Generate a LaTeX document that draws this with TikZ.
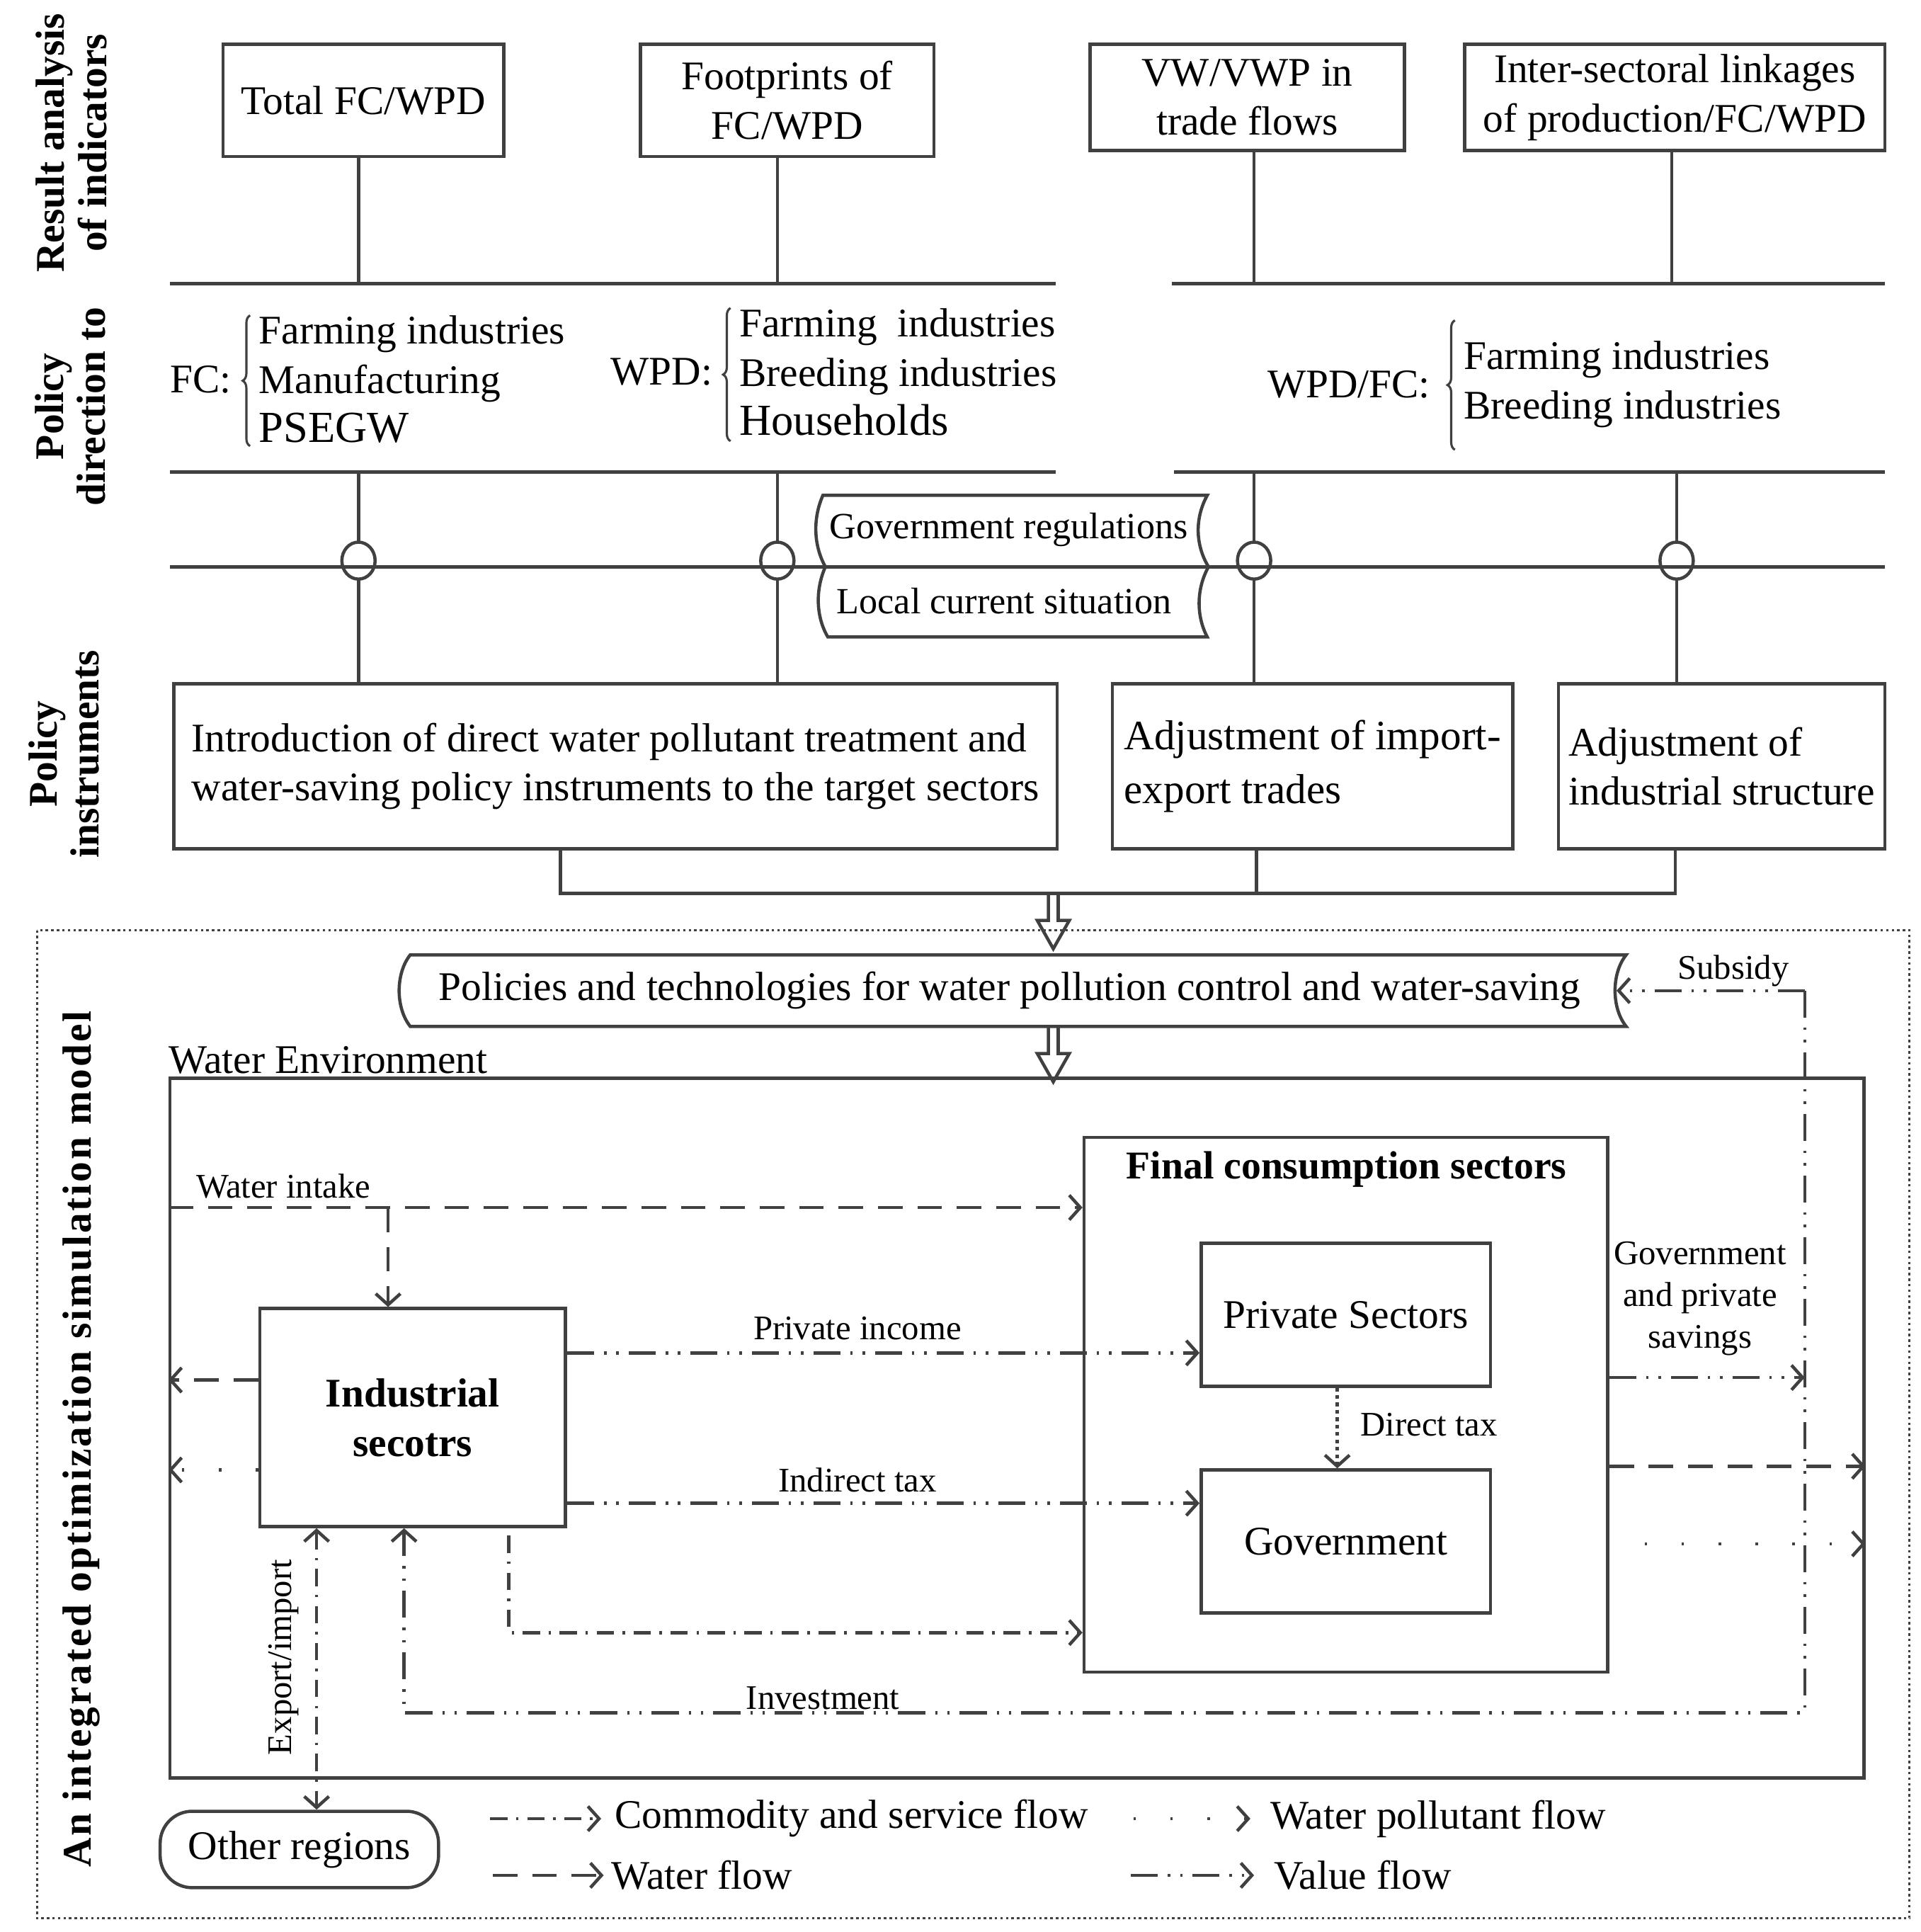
\documentclass[tikz,border=0pt]{standalone}
\usepackage{fontspec}
\setmainfont{Liberation Serif}
\usetikzlibrary{arrows.meta,decorations.pathreplacing}
\definecolor{lc}{HTML}{404040}
\newcommand{\fsz}[2]{\fontsize{#1}{#2}\selectfont}

\begin{document}
\begin{tikzpicture}[x=1pt,y=-1pt,
  >={Straight Barb[length=9pt,width=20pt]},
  ln/.style={draw=lc,line width=2.6pt},
  box/.style={ln,inner sep=0pt,align=center,font=\fsz{33}{40}},
  txt/.style={inner sep=0pt,font=\fsz{33}{40}},
  lbl/.style={inner sep=0pt,font=\fsz{28}{34}},
  side/.style={inner sep=0pt,rotate=90,align=center,font=\fsz{33}{34}\bfseries},
  brc/.style={draw=lc,line width=1.8pt,decorate,decoration={brace,amplitude=6pt}},
  water/.style={ln,dash pattern=on 20pt off 12pt},
  value/.style={ln,dash pattern=on 22pt off 8pt on 2pt off 8pt on 2pt off 8pt},
  commod/.style={ln,dash pattern=on 14pt off 7pt on 2pt off 7pt},
  pollut/.style={ln,dash pattern=on 2pt off 28pt},
  direct/.style={ln,dash pattern=on 3pt off 3pt},
  hollow/.pic={\draw[ln] (-4,0) -- (-4,22) -- (-13,22) -- (0,45) -- (13,22) -- (4,22) -- (4,0);}
]
\useasboundingbox (0,0) rectangle (1559,1568);

% Side titles
\node[side] (sres) at (58,116) {Result analysis\\of indicators};
\node[side] (sdir) at (57,330) {Policy\\direction to};
\node[side] (sins) at (52,612) {Policy\\instruments};
\node[side,font=\fsz{33}{34}\bfseries\addfontfeatures{LetterSpace=5}] (smod) at (66,1168) {An integrated optimization simulation model};

% Indicator boxes
\node[box,minimum width=228pt,minimum height=91pt] (tot) at (295,81.5) {Total FC/WPD};
\node[box,minimum width=238pt,minimum height=91pt] (foot) at (639,81.5) {Footprints of\\FC/WPD};
\node[box,minimum width=255pt,minimum height=86pt] (vw) at (1012.5,79) {VW/VWP in\\trade flows};
\node[box,minimum width=341pt,minimum height=86pt] (link) at (1359.5,79) {Inter-sectoral linkages\\of production/FC/WPD};

% Columns
\coordinate (k1) at (291,230);
\coordinate (k2) at (631,230);
\coordinate (k3) at (1018,230);
\coordinate (k4) at (1357,230);
\draw[ln] (k1 |- tot.south) -- (k1);
\draw[ln] (k2 |- foot.south) -- (k2);
\draw[ln] (k3 |- vw.south) -- (k3);
\draw[ln] (k4 |- link.south) -- (k4);

% Bars
\draw[ln,line width=3pt] (138,230) -- (857,230) (951,230) -- (1530,230);
\draw[ln,line width=3pt] (138,383) -- (857,383) (953,383) -- (1530,383);

% Policy direction
\node[txt] (fc) at (163,308) {FC:};
\node[txt,anchor=west,align=left] (fcl) at (210,308) {Farming industries\\Manufacturing\\\fsz{36}{42}PSEGW};
\draw[brc] ([xshift=-7pt,yshift=-54pt]fcl.west) -- ([xshift=-7pt,yshift=52pt]fcl.west);
\node[txt] (wpd) at (537,302) {WPD:};
\node[txt,anchor=west,align=left] (wpdl) at (600,302) {Farming\ \ industries\\Breeding industries\\\fsz{36}{42}Households};
\draw[brc] ([xshift=-7pt,yshift=-56pt]wpdl.west) -- ([xshift=-7pt,yshift=52pt]wpdl.west);
\node[txt] (wf) at (1095,312) {WPD/FC:};
\node[txt,anchor=west,align=left] (wfl) at (1188,312) {Farming industries\\Breeding industries};
\draw[brc] ([xshift=-7pt,yshift=-53pt]wfl.west) -- ([xshift=-7pt,yshift=52pt]wfl.west);

% Conditions
\draw[ln] (668,402) -- (980,402) .. controls (970,420) and (970,442) .. (981,460)
  .. controls (971,478) and (971,500) .. (980,517) -- (672,517)
  .. controls (662,500) and (662,478) .. (670,460)
  .. controls (660,442) and (660,420) .. (668,402) -- cycle;
\node[txt,font=\fsz{30}{36}] (greg) at (819,430) {Government regulations};
\node[txt,font=\fsz{30}{36}] (loc) at (815,488) {Local current situation};

% Policy instruments
\node[box,align=left,minimum width=717pt,minimum height=134pt] (ins) at (499.5,622) {Introduction of direct water pollutant treatment and\\water-saving policy instruments to the target sectors};
\node[box,align=left,font=\fsz{34}{44},minimum width=325pt,minimum height=134pt] (adj) at (1065.5,622) {Adjustment of import-\\export trades};
\node[box,align=left,minimum width=265pt,minimum height=134pt] (str) at (1397.5,622) {Adjustment of\\industrial structure};

\coordinate (m1) at (291,383);
\coordinate (m2) at (631,383);
\coordinate (m3) at (1018,383);
\coordinate (m4) at (1361,383);
\foreach \k/\b in {1/ins,2/ins,3/adj,4/str}
  \draw[ln] (m\k) -- (m\k |- \b.north);
\foreach \k in {1,...,4}
  \draw[ln,fill=white] (m\k |- 0,455) ellipse [x radius=13.5pt,y radius=15pt];
\draw[ln,line width=3pt] (138,460) -- (1530,460);

\coordinate (ja) at (455,725);
\coordinate (jb) at (1020,725);
\coordinate (jc) at (1360,725);
\coordinate (jn) at (855,725);
\draw[ln] (ja |- ins.south) -- (ja) -- (jc) -- (jc |- str.south);
\draw[ln] (jb |- adj.south) -- (jb);
\pic at (jn) {hollow};

% Simulation model
\draw[lc,line width=1.8pt,dash pattern=on 2pt off 2.5pt] (30,755) rectangle (1550,1557);
\draw[ln] (333,775) -- (1320,775) .. controls (1308,790) and (1308,818) .. (1320,833)
  -- (333,833) .. controls (321,818) and (321,790) .. (333,775) -- cycle;
\node[txt,minimum width=985pt] (pol) at (819.5,804) {Policies and technologies for water pollution control and water-saving};
\pic at (855,833) {hollow};

\node[ln,inner sep=0pt,minimum width=1375pt,minimum height=568pt] (wenv) at (825.5,1159) {};
\node[txt,anchor=south west] (wlab) at (137,872) {Water Environment};
\node[ln,inner sep=0pt,minimum width=425pt,minimum height=434pt] (fin) at (1092.5,1140) {};
\node[txt,font=\fsz{32}{38}\bfseries] (fint) at (1093,949) {Final consumption sectors};
\node[box,minimum width=235pt,minimum height=116pt] (priv) at (1092.5,1067) {Private Sectors};
\node[box,minimum width=235pt,minimum height=116pt] (gov) at (1092.5,1251) {Government};
\node[box,font=\fsz{33}{40}\bfseries,minimum width=248pt,minimum height=177pt] (ind) at (335,1150.5) {Industrial\\secotrs};
\node[box,rounded corners=26pt,minimum width=226pt,minimum height=62pt] (oth) at (243,1501) {Other regions};

% Flows
\coordinate (wi) at (wenv.west |- 0,980);
\coordinate (wb) at (315,980);
\draw[water,->] (wi) -- (wi -| fin.west);
\draw[water,->] (wb) -- (wb |- ind.north);
\node[lbl] (wil) at (230,963) {Water intake};

\coordinate (pi) at (ind.east |- 0,1098);
\draw[value,->] (pi) -- (pi -| priv.west);
\node[lbl] (pil) at (696,1078) {Private income};
\coordinate (it) at (ind.east |- 0,1220);
\draw[value,->] (it) -- (it -| gov.west);
\node[lbl] (itl) at (696,1201) {Indirect tax};

\coordinate (lw) at (ind.west |- 0,1120);
\draw[water,->] (lw) -- (lw -| wenv.west);
\coordinate (lp) at (ind.west |- 0,1193);
\draw[pollut,->] (lp) -- (lp -| wenv.west);

\coordinate (cm) at ([xshift=78pt]ind.south);
\draw[commod,->] ([yshift=-6pt]cm) -- (cm |- 0,1325) -- (fin.west |- 0,1325);

\draw[direct,->] ([xshift=-7pt]priv.south) -- ([xshift=-7pt]gov.north);
\node[lbl] (dtl) at (1160,1156) {Direct tax};

\coordinate (sv) at (fin.east |- 0,1118);
\coordinate (iv) at (1465,1118);
\draw[value,->] (sv) -- (iv);
\node[lbl,align=center] (svl) at (1380,1054) {Government\\and private\\savings};
\coordinate (rw) at (fin.east |- 0,1190);
\draw[water,->] (rw) -- (rw -| wenv.east);
\coordinate (rp) at (1335,1253);
\draw[pollut,->] (rp) -- (rp -| wenv.east);

\coordinate (sb) at (1465,804);
\coordinate (ivb) at (1465,1390);
\coordinate (ia) at ([xshift=-7pt]ind.south);
\draw[value,->] (sb) -- (ivb) -- (ivb -| ia) -- (ia);
\node[lbl] (ivl) at (668,1378) {Investment};
\draw[value,->] (sb) -- (pol.east);
\node[lbl] (sbl) at (1407,788) {Subsidy};

\coordinate (ex) at ([xshift=-78pt]ind.south);
\draw[commod,<->] (ex) -- (ex |- oth.north);
\node[lbl,rotate=90] (exl) at (230,1345) {Export/import};

% Legend
\coordinate (lg1) at (398,1476);
\coordinate (lg2) at (920,1476);
\coordinate (lg3) at (400,1522);
\coordinate (lg4) at (918,1522);
\draw[commod,->] (lg1) -- ++(90,0) node[txt,anchor=west,xshift=10pt] (lgt1) {Commodity and service flow};
\draw[pollut,->] (lg2) -- ++(95,0) node[txt,anchor=west,xshift=15pt] (lgt2) {Water pollutant flow};
\draw[water,->] (lg3) -- ++(90,0) node[txt,anchor=west,xshift=5pt] (lgt3) {Water flow};
\draw[value,->] (lg4) -- ++(100,0) node[txt,anchor=west,xshift=15pt] (lgt4) {Value flow};
\end{tikzpicture}
\end{document}
